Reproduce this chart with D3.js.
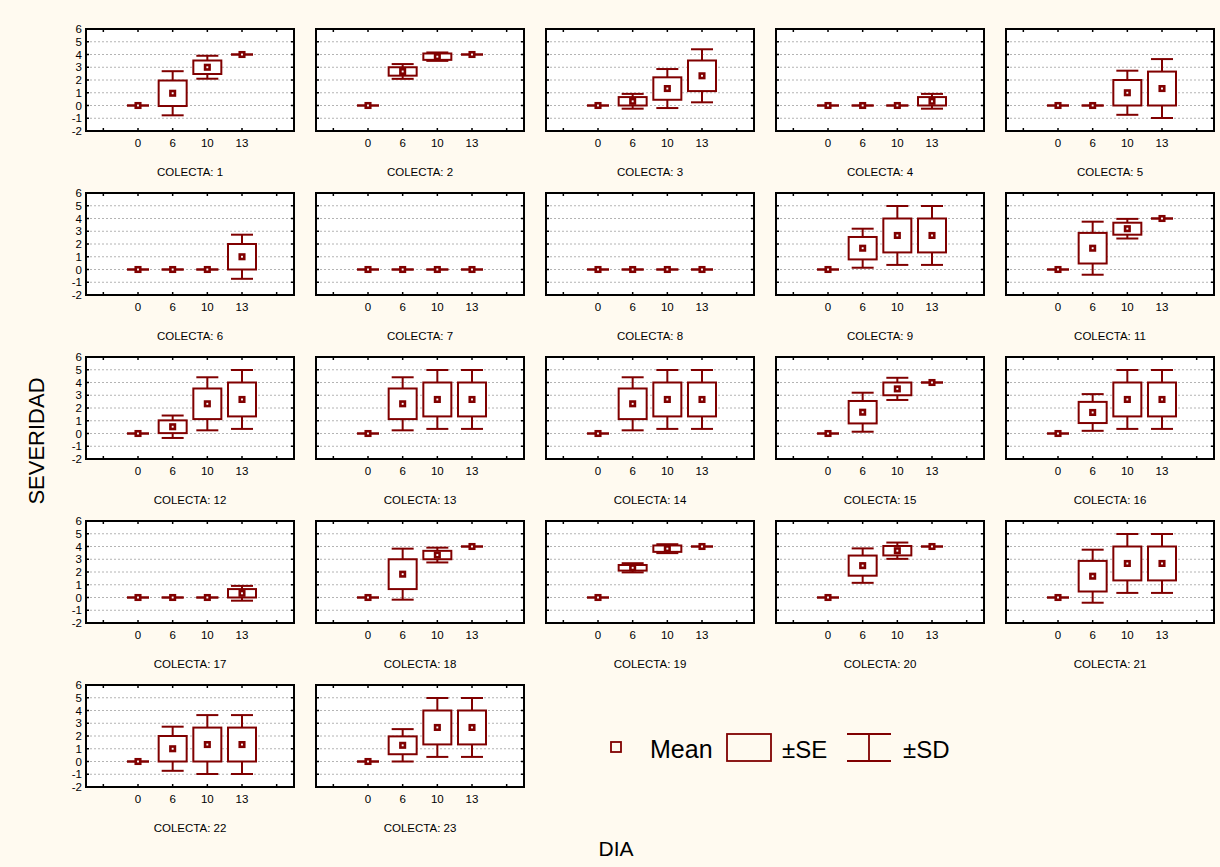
<!DOCTYPE html>
<html>
<head>
<meta charset="utf-8">
<script src="https://cdn.jsdelivr.net/npm/d3@7"></script>
<style>
  body { margin: 0; background: #fffaf0; }
  svg { display: block; font-family: "Liberation Sans", Arial, sans-serif; }
</style>
</head>
<body>
<div id="canvas"></div>
<script>
"use strict"
let svgWidth = 1220;
let svgHeight = 867;

// categories on the x axis (DIA)
let days = ["0", "6", "10", "13"];
// panel ids (COLECTA)
let colectas = [1, 2, 3, 4, 5, 6, 7, 8, 9, 11, 12, 13, 14, 15, 16, 17, 18, 19, 20, 21, 22, 23];
// y tick labels
let yTicks = [-2, -1, 0, 1, 2, 3, 4, 5, 6];

// mean severity per colecta, one value per day
let means = [
    [0, 0.96, 3.0, 4],
    [0, 2.67, 3.83, 4],
    [0, 0.33, 1.33, 2.33],
    [0, 0, 0, 0.33],
    [0, 0, 1.0, 1.33],
    [0, 0, 0, 1.0],
    [0, 0, 0, 0],
    [0, 0, 0, 0],
    [0, 1.67, 2.67, 2.67],
    [0, 1.67, 3.2, 4],
    [0, 0.53, 2.33, 2.67],
    [0, 2.33, 2.67, 2.67],
    [0, 2.33, 2.67, 2.67],
    [0, 1.67, 3.5, 4],
    [0, 1.65, 2.67, 2.67],
    [0, 0, 0, 0.33],
    [0, 1.83, 3.33, 4],
    [0, 2.33, 3.83, 4],
    [0, 2.5, 3.67, 4],
    [0, 1.67, 2.67, 2.67],
    [0, 1.0, 1.33, 1.33],
    [0, 1.27, 2.67, 2.67]
];
// standard error
let se = [
    [0, 1.0, 0.53, 0],
    [0, 0.33, 0.25, 0],
    [0, 0.33, 0.88, 1.2],
    [0, 0, 0, 0.33],
    [0, 0, 1.0, 1.33],
    [0, 0, 0, 1.0],
    [0, 0, 0, 0],
    [0, 0, 0, 0],
    [0, 0.88, 1.33, 1.33],
    [0, 1.2, 0.47, 0],
    [0, 0.5, 1.2, 1.33],
    [0, 1.2, 1.33, 1.33],
    [0, 1.2, 1.33, 1.33],
    [0, 0.88, 0.5, 0],
    [0, 0.83, 1.33, 1.33],
    [0, 0, 0, 0.33],
    [0, 1.17, 0.33, 0],
    [0, 0.22, 0.25, 0],
    [0, 0.79, 0.37, 0],
    [0, 1.2, 1.33, 1.33],
    [0, 1.0, 1.33, 1.33],
    [0, 0.7, 1.33, 1.33]
];
// standard deviation
let sd = [
    [0, 1.73, 0.9, 0],
    [0, 0.58, 0.33, 0],
    [0, 0.58, 1.53, 2.08],
    [0, 0, 0, 0.58],
    [0, 0, 1.73, 2.31],
    [0, 0, 0, 1.73],
    [0, 0, 0, 0],
    [0, 0, 0, 0],
    [0, 1.53, 2.31, 2.31],
    [0, 2.08, 0.77, 0],
    [0, 0.88, 2.08, 2.31],
    [0, 2.08, 2.31, 2.31],
    [0, 2.08, 2.31, 2.31],
    [0, 1.53, 0.87, 0],
    [0, 1.44, 2.31, 2.31],
    [0, 0, 0, 0.58],
    [0, 2.0, 0.58, 0],
    [0, 0.36, 0.35, 0],
    [0, 1.35, 0.64, 0],
    [0, 2.08, 2.31, 2.31],
    [0, 1.73, 2.31, 2.31],
    [0, 1.27, 2.31, 2.31]
];

let boxColor = "#800000";
let panelLeft = 86, panelTop = 29;
let colStep = 230, rowStep = 164;
let panelW = 208, panelH = 102;
let nCols = 5;

let svg = d3.select("#canvas")
    .append("svg")
    .attr("width", svgWidth)
    .attr("height", svgHeight);

svg.append("rect")
    .attr("width", svgWidth)
    .attr("height", svgHeight)
    .attr("fill", "#fffaf0");

// slot scale: slot 0..5 are tick positions, days sit on slots 1..4
let xScale = d3.scaleLinear().domain([-0.5, 5.5]).range([0, panelW]);
let yScale = d3.scaleLinear().domain([-2, 6]).range([panelH, 0]);
let slots = [0, 1, 2, 3, 4, 5];

let boxW = 28, capW = 22;

colectas.forEach(function(c, p) {
    let col = p % nCols;
    let row = Math.floor(p / nCols);
    let g = svg.append("g")
        .attr("transform", "translate(" + (panelLeft + col * colStep) + "," + (panelTop + row * rowStep) + ")");

    g.append("rect")
        .attr("width", panelW)
        .attr("height", panelH)
        .attr("fill", "white");

    // dashed gridlines
    g.selectAll(".grid")
        .data(yTicks.filter(function(t) { return t > -2 && t < 6; }))
        .join("line")
        .attr("x1", 0).attr("x2", panelW)
        .attr("y1", function(d) { return yScale(d); })
        .attr("y2", function(d) { return yScale(d); })
        .attr("stroke", "#b4b4b4")
        .attr("stroke-width", 1)
        .attr("stroke-dasharray", "2,2");

    // inward ticks on all four sides
    slots.forEach(function(s) {
        let x = xScale(s);
        g.append("line").attr("x1", x).attr("x2", x).attr("y1", 0).attr("y2", 3)
            .attr("stroke", "black").attr("stroke-width", 1.5);
        g.append("line").attr("x1", x).attr("x2", x).attr("y1", panelH).attr("y2", panelH - 3)
            .attr("stroke", "black").attr("stroke-width", 1.5);
    });
    yTicks.forEach(function(t) {
        let y = yScale(t);
        g.append("line").attr("x1", 0).attr("x2", 3).attr("y1", y).attr("y2", y)
            .attr("stroke", "black").attr("stroke-width", 1.5);
        g.append("line").attr("x1", panelW).attr("x2", panelW - 3).attr("y1", y).attr("y2", y)
            .attr("stroke", "black").attr("stroke-width", 1.5);
    });

    // boxes, whiskers and means
    days.forEach(function(day, i) {
        let cx = xScale(i + 1);
        let m = means[p][i], e = se[p][i], s = sd[p][i];
        // whiskers
        g.append("line").attr("x1", cx).attr("x2", cx)
            .attr("y1", yScale(m + s)).attr("y2", yScale(m + e))
            .attr("stroke", boxColor).attr("stroke-width", 2);
        g.append("line").attr("x1", cx).attr("x2", cx)
            .attr("y1", yScale(m - s)).attr("y2", yScale(m - e))
            .attr("stroke", boxColor).attr("stroke-width", 2);
        g.append("line").attr("x1", cx - capW / 2).attr("x2", cx + capW / 2)
            .attr("y1", yScale(m + s)).attr("y2", yScale(m + s))
            .attr("stroke", boxColor).attr("stroke-width", 2);
        g.append("line").attr("x1", cx - capW / 2).attr("x2", cx + capW / 2)
            .attr("y1", yScale(m - s)).attr("y2", yScale(m - s))
            .attr("stroke", boxColor).attr("stroke-width", 2);
        // SE box
        g.append("rect")
            .attr("x", cx - boxW / 2)
            .attr("y", yScale(m + e))
            .attr("width", boxW)
            .attr("height", yScale(m - e) - yScale(m + e))
            .attr("fill", "white")
            .attr("stroke", boxColor)
            .attr("stroke-width", 2);
        // mean marker
        g.append("rect")
            .attr("x", cx - 2.25)
            .attr("y", yScale(m) - 2.25)
            .attr("width", 4.5)
            .attr("height", 4.5)
            .attr("fill", "white")
            .attr("stroke", boxColor)
            .attr("stroke-width", 2.6);
    });

    // frame
    g.append("rect")
        .attr("width", panelW)
        .attr("height", panelH)
        .attr("fill", "none")
        .attr("stroke", "black")
        .attr("stroke-width", 2);

    // x tick labels
    days.forEach(function(day, i) {
        g.append("text")
            .attr("x", xScale(i + 1))
            .attr("y", panelH + 16)
            .attr("text-anchor", "middle")
            .attr("font-size", 11.5)
            .text(day);
    });

    // y tick labels only on first column
    if (col == 0) {
        yTicks.forEach(function(t) {
            g.append("text")
                .attr("x", -4)
                .attr("y", yScale(t))
                .attr("text-anchor", "end")
                .attr("dominant-baseline", "central")
                .attr("font-size", 11.5)
                .text(t);
        });
    }

    // panel title
    g.append("text")
        .attr("x", panelW / 2)
        .attr("y", panelH + 45)
        .attr("text-anchor", "middle")
        .attr("font-size", 11.5)
        .text("COLECTA: " + c);
});

// axis titles
svg.append("text")
    .attr("transform", "translate(44,441) rotate(-90)")
    .attr("text-anchor", "middle")
    .attr("font-size", 22)
    .text("SEVERIDAD");

svg.append("text")
    .attr("x", 616)
    .attr("y", 856)
    .attr("text-anchor", "middle")
    .attr("font-size", 21)
    .text("DIA");

// legend
let legY = 747;
svg.append("rect")
    .attr("x", 611).attr("y", legY - 5)
    .attr("width", 10).attr("height", 10)
    .attr("fill", "#fffaf0")
    .attr("stroke", boxColor)
    .attr("stroke-width", 1.8);
svg.append("text")
    .attr("x", 650).attr("y", legY + 11)
    .attr("font-size", 25)
    .text("Mean");
svg.append("rect")
    .attr("x", 727).attr("y", legY - 13)
    .attr("width", 44).attr("height", 27)
    .attr("fill", "none")
    .attr("stroke", boxColor)
    .attr("stroke-width", 1.8);
svg.append("text")
    .attr("x", 782).attr("y", legY + 11)
    .attr("font-size", 24)
    .text("±SE");
svg.append("line")
    .attr("x1", 847).attr("x2", 891).attr("y1", legY - 13).attr("y2", legY - 13)
    .attr("stroke", boxColor).attr("stroke-width", 1.8);
svg.append("line")
    .attr("x1", 847).attr("x2", 891).attr("y1", legY + 14).attr("y2", legY + 14)
    .attr("stroke", boxColor).attr("stroke-width", 1.8);
svg.append("line")
    .attr("x1", 869).attr("x2", 869).attr("y1", legY - 13).attr("y2", legY + 14)
    .attr("stroke", boxColor).attr("stroke-width", 1.8);
svg.append("text")
    .attr("x", 903).attr("y", legY + 11)
    .attr("font-size", 24)
    .text("±SD");
</script>
</body>
</html>
